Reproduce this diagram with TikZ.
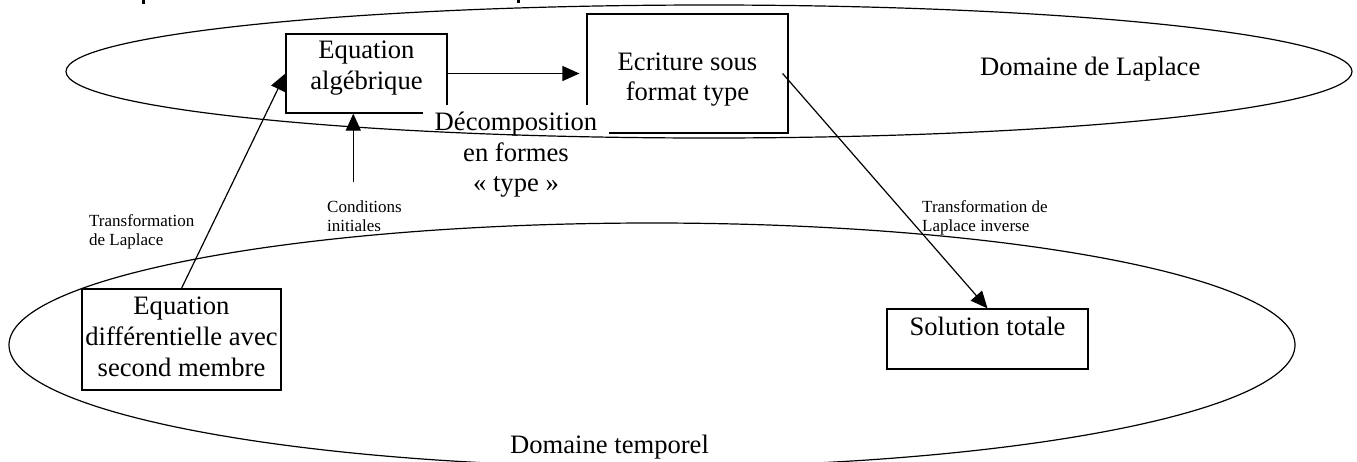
\documentclass[tikz,border=0pt]{standalone}
\usepackage{fontspec}
\setmainfont{Liberation Serif}
\usetikzlibrary{arrows.meta}
\begin{document}
\begin{tikzpicture}[x=1pt,y=-1pt,
  big/.style={font=\fontsize{26.6}{30.6}\selectfont, inner sep=0pt, align=center},
  small/.style={font=\fontsize{17}{19.8}\selectfont, inner sep=0pt, align=left},
  boxnode/.style={draw, line width=1.2pt, inner sep=0pt},
  arr/.style={line width=1.2pt, -{Triangle[length=17pt,width=15pt]}},
  domainline/.style={line width=1.2pt}
]
\useasboundingbox (0,0) rectangle (1357,461);

% cut-off heading fragments at the very top
\fill (141.5,0) rectangle (144.5,4);
\fill (516.5,0) rectangle (519.5,3);

% boxes
\node[boxnode, minimum width=199pt, minimum height=101pt] (ediff) at (181.5,339.5) {};
\node[boxnode, minimum width=161pt, minimum height=79pt] (ealg) at (366.5,73.5) {};
\node[boxnode, minimum width=201pt, minimum height=119pt] (ecrit) at (687.5,73.5) {};
\node[boxnode, minimum width=201pt, minimum height=60pt] (sol) at (987.5,339) {};

% box texts
\node[big, anchor=north] (tediff) at (181.5,297) {Equation\\différentielle avec\\second membre};
\node[big, anchor=north] (tealg) at (366.5,40.8) {Equation\\algébrique};
\node[big, anchor=north] (tecrit) at (687.5,52.5) {Ecriture sous\\format type};
\node[big, anchor=north] (tsol) at (987.5,317) {Solution totale};

% connectors
\coordinate (ci) at (353.3,181.7);
\draw[arr] (ediff.north) -- (ealg.west);
\draw[arr] (ci) -- (ci |- ealg.south);
\draw[arr, shorten >=7pt] (ealg.east) -- (ecrit.west);
\draw[arr] ([xshift=-6pt]ecrit.east) -- (sol.north);

% labels
\node[small, anchor=north west] (ltl) at (89,214) {Transformation\\de Laplace};
\node[small, anchor=north west] (lci) at (327,200) {Conditions\\initiales};
\node[small, anchor=north west] (lti) at (922,200) {Transformation de\\Laplace inverse};

\node[big, anchor=north, fill=white, inner xsep=12pt, inner ysep=7pt] (tdec) at (516,105)
  {Décomposition\\en formes\\«~type~»};

\node[big, anchor=north west] (tlap) at (980,56.8) {Domaine de Laplace};
\node[big, anchor=north west] (ttemp) at (510,435) {Domaine temporel};

% domains
\draw[domainline] (709,71.5) ellipse [x radius=643pt, y radius=66.5pt];
\draw[domainline] (652,345) ellipse [x radius=643pt, y radius=122pt];
\end{tikzpicture}
\end{document}
